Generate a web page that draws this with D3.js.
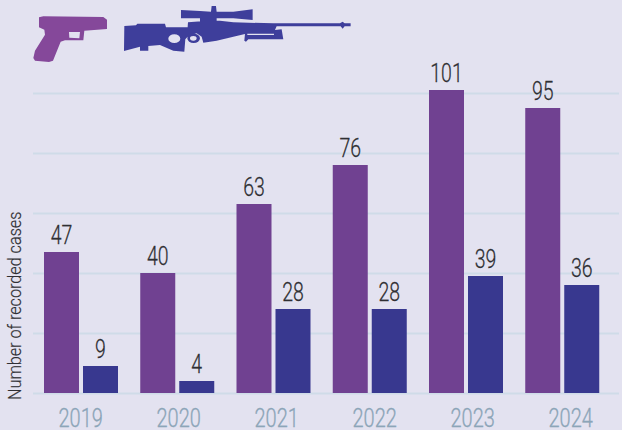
<!DOCTYPE html>
<html><head><meta charset="utf-8">
<script src="https://cdnjs.cloudflare.com/ajax/libs/d3/7.8.5/d3.min.js"></script>
<style>
html,body{margin:0;padding:0;background:#e3e2f0;}
svg{display:block;font-family:Roboto,sans-serif;}
</style></head><body><svg id="c" width="622" height="430"></svg>
<script>
const years=["2019","2020","2021","2022","2023","2024"];
const pistolCases=[47,40,63,76,101,95];
const rifleCases=[9,4,28,28,39,36];
const gridTicks=[0,20,40,60,80,100];
const yTitle="Number of recorded cases";
const pistolIcon="M42 28L55 25L235 27L246 35L246 63L178 68L175 97L120 97L107 101L84 158L72 162L30 158L25 150L30 128L60 80L58 65L42 58ZM132 72L133 89L163 91L165 72Z";
const rifleIcon="M373 78L408 76L412 71L495 71L498 82L563 82L564 67L625 62L660 62L700 67L820 70L1020 70L1028 65L1034 70L1052 70L1052 79L1034 79L1028 86L1022 79L830 79L825 90L845 88L850 118L745 118L738 125L733 122L735 102L700 110L650 122L610 128L605 110L590 100L565 108L556 118L553 155L520 152L480 135L445 138L445 152L420 152L420 140L372 153Z M505 116A18 13 0 1 0 541 116A18 13 0 1 0 505 116Z M562 115A19 14 0 1 1 600 115A19 14 0 1 1 562 115Z M570 115A10 7 0 1 0 590 115A10 7 0 1 0 570 115Z M543 30L600 33L633 35L635 18L648 18L650 35L700 35L758 28L758 60L700 55L650 55L650 65L600 65L600 55L543 55Z M742 101L742 105L822 105L822 101Z";

const svg=d3.select("#c");
const y=d3.scaleLinear().domain([0,100]).range([393,93]);
const x0=d3.scaleBand().domain(years).range([35.5,613]);
const x1=d3.scaleBand().domain(["p","r"]).range([8.5,82.5]).paddingInner(4/39);
const xLabel=d3.scalePoint().domain(years).range([58,548]);

const gridAxis=d3.axisLeft(y).tickValues(gridTicks).tickSize(-586).tickFormat("");
const g=svg.append("g").attr("transform","translate(33,0)").call(gridAxis);
g.select(".domain").remove();
g.selectAll("line").attr("stroke","#cfdbe8").attr("stroke-width",2.2);

const bars=svg.append("g");
const draw=(vals,key,col)=>{
  bars.selectAll("rect."+key).data(vals).join("rect").attr("class",key)
   .attr("x",(d,i)=>x0(years[i])+x1(key)).attr("width",x1.bandwidth())
   .attr("y",d=>y(d)).attr("height",d=>y(0)-y(d)).attr("fill",col).attr("fill-opacity",0.97);
  svg.append("g").selectAll("text").data(vals).join("text")
   .attr("transform",(d,i)=>`translate(${x0(years[i])+x1(key)+x1.bandwidth()/2},${y(d)-8.5}) scale(0.78,1)`)
   .attr("text-anchor","middle").attr("font-size",25).attr("font-weight",300).attr("stroke","#2f2f33").attr("stroke-width",0.25).attr("fill","#2f2f33").text(d=>d);
};
draw(pistolCases,"p","#6c3c8d");
draw(rifleCases,"r","#33338b");

const xAxis=d3.axisBottom(xLabel).tickSize(0).tickPadding(0);
const xg=svg.append("g").attr("transform","translate(0,427)").call(xAxis);
xg.select(".domain").remove();
xg.selectAll("text").attr("dy",0).attr("y",0).attr("text-anchor","start").attr("font-family","Roboto").attr("font-size",25).attr("font-weight",300)
  .attr("stroke","#8ca5b8").attr("stroke-width",0.3)
  .attr("fill","#8ca5b8").attr("transform","scale(0.8,1)");

svg.append("text").attr("transform","translate(20.5,400) rotate(-90) scale(0.853,1)")
  .attr("font-size",19).attr("font-weight",300).attr("stroke","#2f2f33").attr("stroke-width",0.2).attr("fill","#2f2f33").text(yTitle);

svg.append("path").attr("transform","translate(25,8) scale(0.3333)").attr("d",pistolIcon).attr("fill","#85489a").attr("fill-rule","evenodd");
svg.append("path").attr("transform","scale(0.3333)").attr("d",rifleIcon).attr("fill","#3e3e9b").attr("fill-rule","nonzero");
</script></body></html>
